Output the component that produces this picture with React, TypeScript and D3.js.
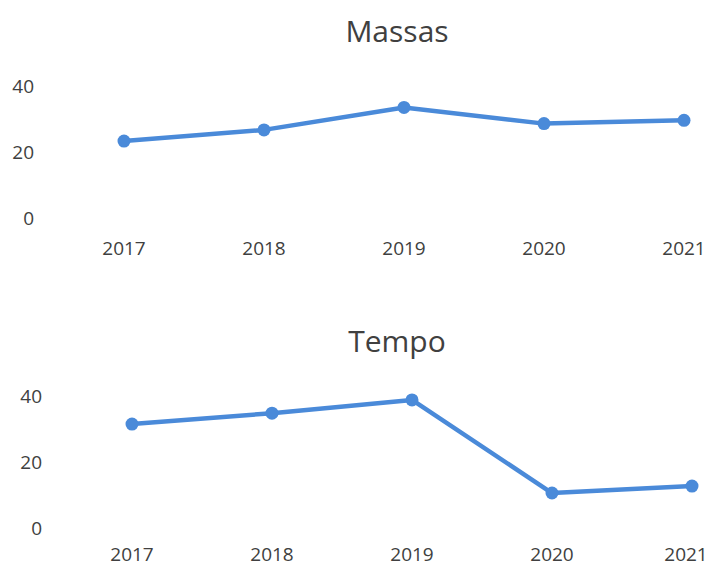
import React from 'react'
import * as d3 from 'd3'

const YEARS = ['2017', '2018', '2019', '2020', '2021']
const MASSAS = [23.3, 26.7, 33.5, 28.6, 29.6]
const TEMPO = [31.5, 34.8, 38.8, 10.6, 12.7]
const Y_TICKS = [0, 20, 40]

const LINE_COLOR = '#4a8ad9'
const FONT = '"Open Sans", "Noto Sans", sans-serif'

type PanelProps = { title: string; values: number[]; top: number; left: number; labelY: number }

function LinePanel({ title, values, top, left, labelY }: PanelProps) {
  const x = d3.scalePoint<string>().domain(YEARS).range([left + 124, left + 684])
  const y = d3.scaleLinear().domain([0, 40]).range([top + 218, top + 86])
  const line = d3.line<number>().x((_, i) => x(YEARS[i])!).y((d) => y(d))

  return (
    <g>
      <text x={397} y={top + 42} textAnchor="middle" fontSize={30} fill="#404040" fontFamily={FONT}>
        {title}
      </text>
      {Y_TICKS.map((t) => (
        <text key={t} x={left + 34} y={y(t)} dy="0.35em" textAnchor="end" fontSize={19} fill="#404040" fontFamily={FONT}>
          {t}
        </text>
      ))}
      {YEARS.map((yr) => (
        // keep the last label inside the picture
        <text key={yr} x={Math.min(x(yr)!, 686)} y={labelY} textAnchor="middle" fontSize={19} fill="#404040" fontFamily={FONT}>
          {yr}
        </text>
      ))}
      <path d={line(values) ?? ''} fill="none" stroke={LINE_COLOR} strokeWidth={4.5} strokeLinejoin="round" />
      {values.map((v, i) => (
        <circle key={i} cx={x(YEARS[i])} cy={y(v)} r={6.5} fill={LINE_COLOR} />
      ))}
    </g>
  )
}

export default function App() {
  return (
    <div style={{ position: 'absolute', left: 0, top: 0 }}>
      <svg width={710} height={567} style={{ display: 'block', background: '#fff' }}>
        <LinePanel title="Massas" values={MASSAS} top={0} left={0} labelY={255} />
        <LinePanel title="Tempo" values={TEMPO} top={310} left={8} labelY={561} />
      </svg>
    </div>
  )
}
